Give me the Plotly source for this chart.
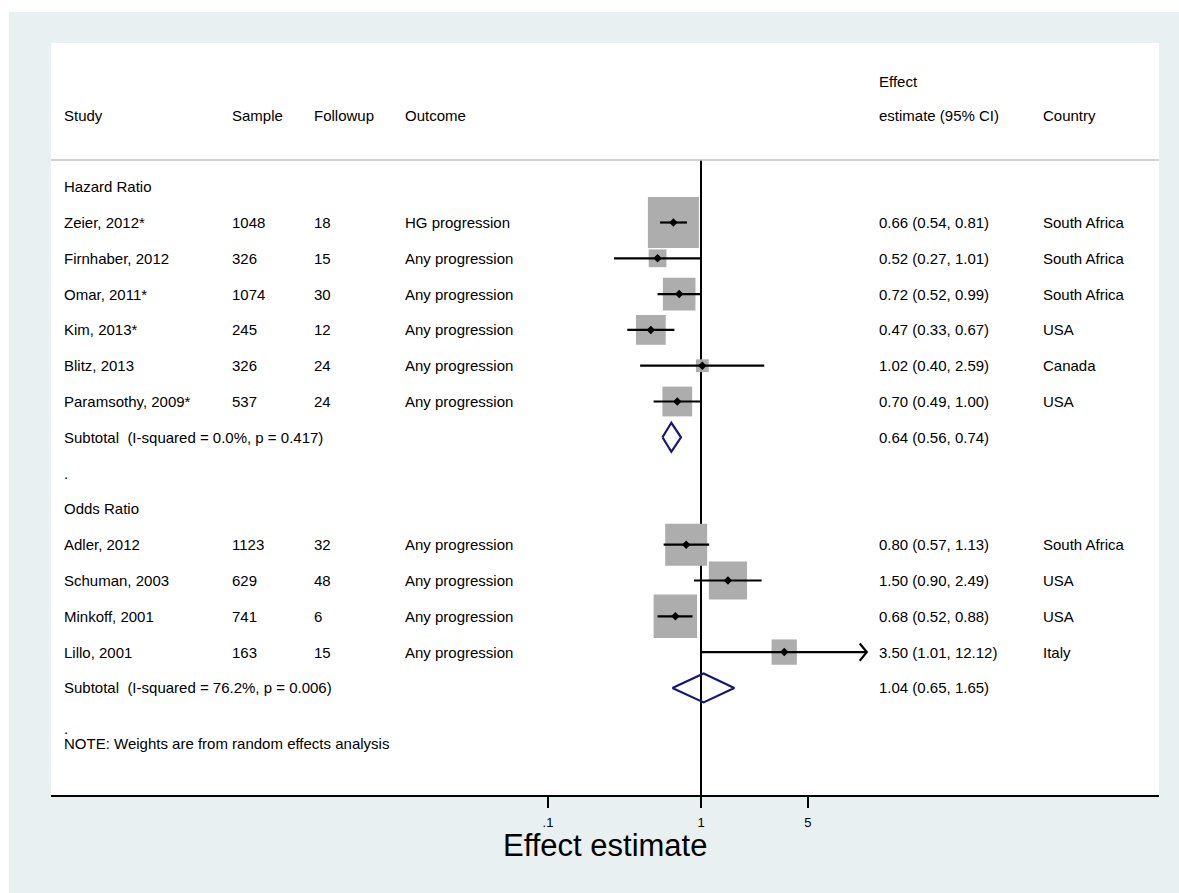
import math
import plotly.graph_objects as go

# ---- study-level data ----
studies = ["Zeier, 2012*", "Firnhaber, 2012", "Omar, 2011*", "Kim, 2013*", "Blitz, 2013",
           "Paramsothy, 2009*", "Adler, 2012", "Schuman, 2003", "Minkoff, 2001", "Lillo, 2001"]
samples = [1048, 326, 1074, 245, 326, 537, 1123, 629, 741, 163]
followup = [18, 15, 30, 12, 24, 24, 32, 48, 6, 15]
outcomes = ["HG progression"] + ["Any progression"] * 9
estimates = [0.66, 0.52, 0.72, 0.47, 1.02, 0.70, 0.80, 1.50, 0.68, 3.50]
lower_ci = [0.54, 0.27, 0.52, 0.33, 0.40, 0.49, 0.57, 0.90, 0.52, 1.01]
upper_ci = [0.81, 1.01, 0.99, 0.67, 2.59, 1.00, 1.13, 2.49, 0.88, 12.12]
countries = ["South Africa", "South Africa", "South Africa", "USA", "Canada",
             "USA", "South Africa", "USA", "USA", "Italy"]
weights = [22.3, 2.7, 9.1, 7.6, 1.4, 7.6, 15.1, 12.5, 16.2, 5.5]   # random-effects weights (%)
study_rows = [1, 2, 3, 4, 5, 6, 10, 11, 12, 13]

# ---- subgroups ----
group_labels = ["Hazard Ratio", "Odds Ratio"]
group_rows = [0, 9]
subtotal_labels = ["Subtotal\u00a0 (I-squared = 0.0%, p = 0.417)",
                   "Subtotal\u00a0 (I-squared = 76.2%, p = 0.006)"]
subtotal_est = [0.64, 1.04]
subtotal_lo = [0.56, 0.65]
subtotal_hi = [0.74, 1.65]
subtotal_rows = [7, 14]

# ---- axis ----
tick_vals = [0.1, 1, 5]
tick_text = [".1", "1", "5"]
arrow_above = 10  # CIs reaching beyond this get an arrow head

# ---- layout constants (pixels) ----
W, H = 1179, 893
L, R, T, B = 51, 20, 43, 98
PW, PH = W - L - R, H - T - B
ROW0, ROWH = 186.7, 35.8
FONT = "Liberation Sans, Arial, Helvetica, sans-serif"
BOX_GREY = "#adadad"
NAVY = "#16167a"
BG = "#e8f0f2"


def row_of(py):
    return (py - ROW0) / ROWH


def px_x(px):
    return (px - L) / PW


col_x = {"study": 64, "sample": 232, "followup": 314, "outcome": 405, "effect": 879, "country": 1043}

fig = go.Figure()

# null line at 1
sep_row = row_of(160)
fig.add_trace(go.Scatter(x=[1, 1], y=[sep_row, row_of(H - B + 2)], mode="lines",
                         line=dict(color="black", width=2), hoverinfo="skip", showlegend=False))

# weight boxes
k = 51 / math.sqrt(max(weights))
fig.add_trace(go.Scatter(
    x=estimates, y=study_rows, mode="markers",
    marker=dict(symbol="square", size=[k * math.sqrt(w) for w in weights], color=BOX_GREY,
                opacity=1, line=dict(width=0)),
    hoverinfo="skip", showlegend=False))

# confidence intervals
for est, lo, hi, r in zip(estimates, lower_ci, upper_ci, study_rows):
    fig.add_trace(go.Scatter(x=[lo, hi], y=[r, r], mode="lines",
                             line=dict(color="black", width=2.2), hoverinfo="skip", showlegend=False))
    if hi > arrow_above:
        back = 10 ** (math.log10(hi) - 0.046)
        fig.add_trace(go.Scatter(x=[back, hi, back], y=[r - 0.24, r, r + 0.24], mode="lines",
                                 line=dict(color="black", width=2.2), hoverinfo="skip",
                                 showlegend=False))

# point estimates
fig.add_trace(go.Scatter(x=estimates, y=study_rows, mode="markers",
                         marker=dict(symbol="diamond", size=6.5, color="black", line=dict(width=0)),
                         hoverinfo="skip", showlegend=False))

# subtotal diamonds
for est, lo, hi, r in zip(subtotal_est, subtotal_lo, subtotal_hi, subtotal_rows):
    hh = 0.405
    fig.add_trace(go.Scatter(x=[lo, est, hi, est, lo], y=[r, r - hh, r, r + hh, r], mode="lines",
                             line=dict(color=NAVY, width=2.2), hoverinfo="skip", showlegend=False))

annotations = []


def text(x_px, row, s, size=15):
    annotations.append(dict(x=px_x(x_px), xref="paper", y=row, yref="y", text=s,
                            xanchor="left", yanchor="middle", showarrow=False,
                            borderpad=0, borderwidth=0,
                            font=dict(family=FONT, size=size, color="black")))


# header
hdr = -2
text(col_x["study"], hdr, "Study")
text(col_x["sample"], hdr, "Sample")
text(col_x["followup"], hdr, "Followup")
text(col_x["outcome"], hdr, "Outcome")
text(col_x["effect"], -2.94, "Effect")
text(col_x["effect"], hdr, "estimate (95% CI)")
text(col_x["country"], hdr, "Country")

for g, r in zip(group_labels, group_rows):
    text(col_x["study"], r, g)

for i, r in enumerate(study_rows):
    text(col_x["study"], r, studies[i])
    text(col_x["sample"], r, str(samples[i]))
    text(col_x["followup"], r, str(followup[i]))
    text(col_x["outcome"], r, outcomes[i])
    text(col_x["effect"], r, f"{estimates[i]:.2f} ({lower_ci[i]:.2f}, {upper_ci[i]:.2f})")
    text(col_x["country"], r, countries[i])

for lab, est, lo, hi, r in zip(subtotal_labels, subtotal_est, subtotal_lo, subtotal_hi, subtotal_rows):
    text(col_x["study"], r, lab)
    text(col_x["effect"], r, f"{est:.2f} ({lo:.2f}, {hi:.2f})")

text(col_x["study"], 8, ".")
text(col_x["study"], row_of(728), ".")
text(col_x["study"], row_of(743), "NOTE: Weights are from random effects analysis")

# axis title
annotations.append(dict(x=0.5, xref="paper", y=(H - B - 845) / PH, yref="paper",
                        text="Effect estimate", showarrow=False, xanchor="center", yanchor="middle",
                        borderpad=0, font=dict(family=FONT, size=31, color="black")))

shapes = [
    # white outer border strips
    dict(type="rect", xref="paper", yref="paper", x0=-0.2, x1=px_x(9), y0=-0.3, y1=1.2,
         fillcolor="white", line=dict(width=0), layer="below"),
    dict(type="rect", xref="paper", yref="paper", x0=-0.2, x1=1.2, y0=(H - B - 12) / PH, y1=1.2,
         fillcolor="white", line=dict(width=0), layer="below"),
    # header separator
    dict(type="line", xref="paper", yref="y", x0=0, x1=1, y0=sep_row, y1=sep_row,
         line=dict(color="#c4c4c4", width=1.6)),
]

fig.update_layout(
    width=W, height=H,
    margin=dict(l=L, r=R, t=T, b=B, pad=0),
    paper_bgcolor=BG, plot_bgcolor="white",
    font=dict(family=FONT, size=15, color="black"),
    showlegend=False,
    annotations=annotations,
    shapes=shapes,
    xaxis=dict(type="log", range=[(L - 701) / 153, (W - R - 701) / 153],
               tickvals=tick_vals, ticktext=tick_text, ticks="outside", ticklen=11,
               tickwidth=1.5, tickcolor="black", tickfont=dict(family=FONT, size=13, color="black"),
               ticklabelstandoff=4,
               showgrid=False, zeroline=False, showline=True, linecolor="black", linewidth=1.5,
               fixedrange=True),
    yaxis=dict(range=[row_of(H - B), row_of(T)], visible=False, showgrid=False,
               zeroline=False, fixedrange=True),
)

fig.write_html("out.html", config={"displayModeBar": False})
